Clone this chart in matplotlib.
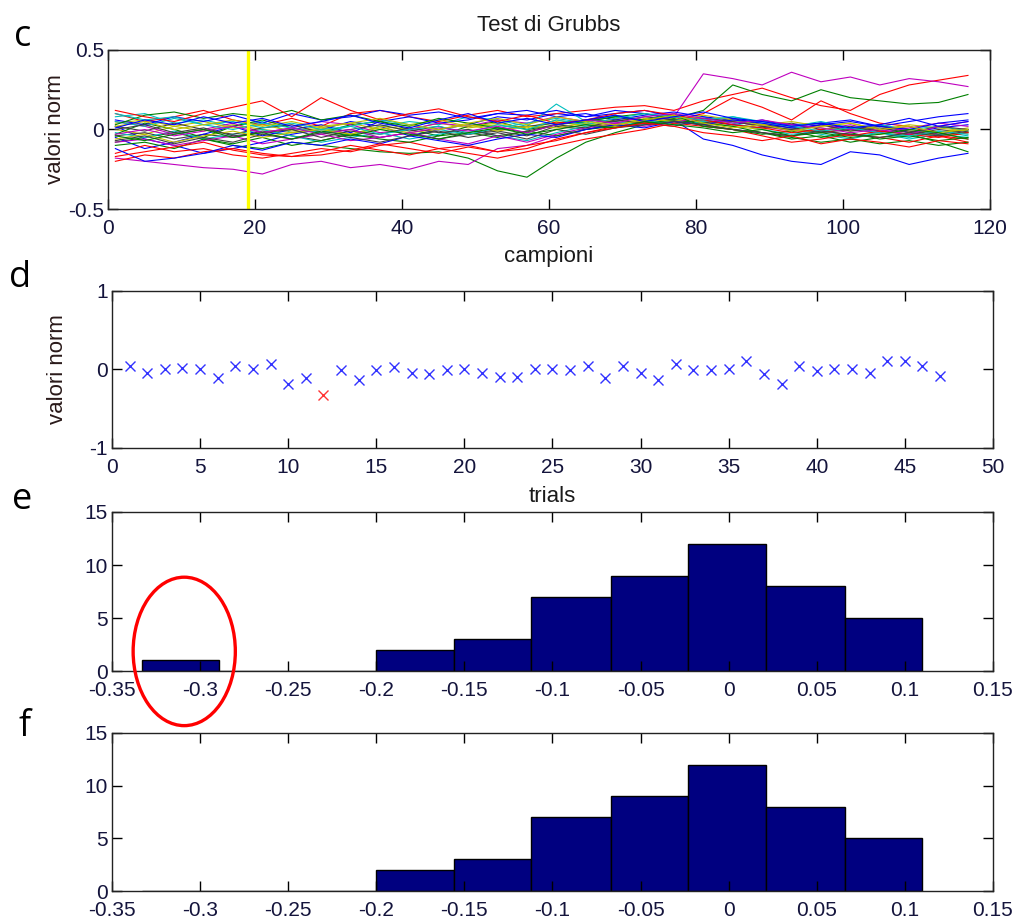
import numpy as np
import matplotlib

matplotlib.use("Agg")
import matplotlib.pyplot as plt
from matplotlib.patches import Ellipse

# ---- data -------------------------------------------------------------
# panel c: normalised samples per trial (hundredths), read every 4th sample
campioni = list(range(1, 118, 4))
trial_lines = [
    [2, -6, -10, -15, -12, -8, -3, 0, 5, 2, -4, 0, 3, 8, 6, 10, 8, 12, 10, 6, -6, -10, -16, -20, -22, -14, -16, -22, -18, -15],
    [-8, -5, -2, -6, -10, -12, -8, -10, -12, -14, -15, -14, -18, -26, -30, -18, -8, -2, 3, 5, 3, 0, -2, -6, -4, -8, -5, -3, -8, -14],
    [10, 5, 8, 12, 6, 3, 7, 2, 10, 12, 8, 5, 9, 12, 8, 10, 12, 14, 15, 12, 18, 22, 26, 20, 15, 12, 22, 28, 31, 34],
    [8, 10, 4, 6, 2, 5, -2, 0, -4, 2, 5, 3, 8, 6, 2, 16, 5, 8, 6, 10, 4, 6, 2, 0, -3, -6, -2, -5, -1, -4],
    [-18, -20, -22, -24, -25, -28, -22, -20, -24, -22, -25, -20, -22, -12, -10, -4, 0, 4, 5, 8, 2, 0, -2, -4, 0, 3, -1, 2, -3, 0],
    [0, -3, 2, -1, 3, 0, -2, 1, -3, 2, 0, 4, 1, 3, 0, 5, 2, 6, 4, 7, 3, 5, 2, 0, -2, 1, -3, -1, -4, -2],
    [-4, -2, -6, -3, -5, -1, -4, -7, -3, -5, -2, -6, -3, -1, -4, 2, 0, 3, 6, 4, 6, 3, 1, 4, 0, 2, -1, -3, 0, -2],
    [-5, -12, -8, -3, 2, -4, 0, 3, -2, 5, 8, 4, 6, 10, 9, 12, 8, 10, 12, 8, 5, 3, 6, 2, 4, 0, 3, -2, 1, 3],
    [-3, 4, 0, -5, 2, 6, 1, -2, 3, 5, 0, -4, 2, 5, 0, 3, 6, 8, 10, 7, 12, 28, 22, 18, 25, 20, 18, 16, 17, 22],
    [-15, -10, -14, -12, -16, -18, -15, -12, -14, -10, -8, -12, -10, -14, -12, -6, -2, 2, 4, 6, 10, 20, 14, 6, 18, 10, 4, 2, -4, -8],
    [-2, -5, -1, -6, -3, 0, -4, -8, -5, -2, -6, -3, 0, -4, -7, -2, 2, 5, 3, 6, 8, 4, 0, -3, -1, -4, -2, -6, -3, -5],
    [5, 2, -3, 0, 4, -2, 1, 5, 3, -2, 0, 4, 2, 6, 4, 8, 5, 9, 6, 8, 35, 32, 28, 36, 30, 33, 28, 32, 30, 27],
    [4, 6, 2, 5, 1, 3, -1, 2, 4, 0, 3, 6, 2, 4, 1, 6, 3, 7, 5, 8, 5, 2, 0, 3, 1, -1, 2, 0, -2, 1],
    [2, -1, 4, 0, -3, 1, 3, -2, 0, 3, -1, 2, -3, 0, 2, 4, 6, 5, 8, 6, 4, 7, 3, 1, -2, 0, 2, -1, -3, 0],
    [6, 3, 8, 5, 9, 4, 10, 6, 8, 12, 9, 11, 7, 10, 12, 8, 10, 6, 9, 11, 8, 6, 5, 3, 4, 6, 2, 5, 8, 10],
    [-10, -8, -12, -6, -9, -5, -10, -7, -3, -6, -8, -4, -2, -5, -1, -4, 0, 2, 4, 6, 4, 2, -2, -5, -8, -6, -9, -7, -10, -8],
    [-20, -16, -18, -14, -12, -15, -17, -14, -10, -13, -16, -12, -15, -18, -14, -10, -6, -3, 0, 4, 2, 0, -4, -8, -6, -3, -5, -8, -4, -6],
    [5, 2, 7, 3, 0, 4, 1, -2, 2, 6, 3, 0, -3, 1, 4, 7, 4, 9, 6, 3, 5, 8, 4, 2, 5, 1, 3, 0, 2, -1],
    [-8, -6, -10, -7, -4, -9, -6, -3, -7, -5, -2, -6, -9, -4, -8, -3, 1, 4, 2, 5, 7, 5, 2, -1, 3, 0, -2, 1, 4, 2],
    [-6, -3, -8, -4, -1, -5, -2, 0, -3, 1, -2, 0, 3, -1, 2, 1, 4, 2, 7, 5, 9, 6, 3, 5, 2, 4, 0, 3, 1, -1],
    [0, 3, -2, 1, -4, -2, 0, -5, -1, -3, 1, -2, 0, -4, -1, 3, 1, 6, 4, 2, 7, 5, 2, 0, 3, -1, 1, -2, 2, 0],
    [-12, -20, -18, -15, -10, -13, -8, -10, -6, -9, -4, -7, -10, -6, -3, -5, 0, 3, 1, 5, 3, 6, 4, 1, 3, 5, 2, 0, 4, 6],
    [3, 9, 11, 7, 10, 8, 12, 6, 9, 5, 2, 7, 4, 1, -2, 3, 5, 8, 6, 9, 2, 0, -3, -1, -5, -2, -6, -4, -7, -5],
    [12, 8, 5, 10, 14, 18, 8, 20, 12, 6, 10, 13, 8, 5, 9, 4, 6, 10, 12, 9, 6, 3, 1, -2, 0, -4, -1, -3, -5, -2],
    [10, 6, 8, 3, 5, 1, 4, 0, 2, -3, 0, 2, -2, 3, 0, 6, 3, 7, 10, 8, 6, 8, 5, 2, -1, 1, -2, -4, -1, -3],
    [-3, 0, -4, -1, 2, -2, 1, -3, 0, -5, -2, 1, -1, 2, -2, 3, 6, 4, 8, 10, 7, 4, 6, 3, 1, -2, 0, -3, 2, 5],
    [2, 5, 0, 3, 6, 2, 5, 1, 4, 7, 3, 0, 4, 7, 3, 8, 5, 3, 6, 9, 4, 1, 3, -1, 2, 4, 0, 2, -2, 0],
    [-7, -4, -9, -5, -8, -3, -6, -2, -5, -8, -4, -1, -5, -2, -6, 0, -3, 1, 3, 5, 3, 0, -2, -4, -1, -3, -5, -2, -4, -1],
    [1, 6, 3, 8, 4, 7, 2, 5, 9, 4, 1, 6, 10, 4, 7, 3, 6, 9, 5, 8, 11, 7, 5, 2, 4, 1, 3, 7, 2, 5],
    [-4, -7, -3, 0, -5, -2, -6, -1, -4, 0, -3, -6, -2, 1, -3, 0, 3, 1, 5, 3, 1, -2, 0, -4, -2, -5, -3, 0, -2, -6],
    [-17, -14, -11, -8, -13, -16, -17, -16, -13, -9, -12, -15, -11, -14, -10, -7, -2, 1, 4, 2, -2, -4, -7, -4, -9, -6, -8, -11, -7, -9],
]
soglia_campione = 19

# panel d: mean value per trial
trials = list(range(1, 48))
valori_trial = [0.05, -0.04, 0.0, 0.02, 0.0, -0.11, 0.04, 0.0, 0.07, -0.18,
                -0.11, -0.33, -0.01, -0.13, -0.01, 0.03, -0.04, -0.06, -0.01, 0.0,
                -0.04, -0.10, -0.10, 0.01, 0.0, -0.01, 0.05, -0.11, 0.05, -0.04,
                -0.13, 0.07, -0.01, -0.01, 0.0, 0.11, -0.06, -0.18, 0.05, -0.02,
                0.0, 0.0, -0.04, 0.11, 0.11, 0.04, -0.08]
outlier_trial = 12

# panels e, f: histogram of the trial values (10 bins), before/after removal
bin_edges = [-0.333, -0.289, -0.245, -0.200, -0.156, -0.112,
             -0.067, -0.023, 0.021, 0.066, 0.110]
counts_before = [1, 0, 0, 2, 3, 7, 9, 12, 8, 5]
counts_after = [0, 0, 0, 2, 3, 7, 9, 12, 8, 5]

# ---- style ------------------------------------------------------------
plt.rcParams["font.family"] = ["Liberation Sans", "DejaVu Sans"]
plt.rcParams["axes.unicode_minus"] = False
matlab_colors = ["#0000ff", "#008000", "#ff0000", "#00bfbf",
                 "#bf00bf", "#bfbf00", "#404040"]
tick_color = "#14143c"
text_color = "#1a1a1a"
navy = "#000080"
TICK_FS = 15
LABEL_FS = 16

fig = plt.figure(figsize=(10.2, 9.22), dpi=100)


def style_axes(ax):
    for s in ax.spines.values():
        s.set_linewidth(1.0)
        s.set_color("#222222")
    ax.tick_params(direction="in", length=7, width=1.0, top=True, right=True,
                   labelsize=TICK_FS, labelcolor=tick_color)
    ax.tick_params(axis="x", pad=7)
    ax.tick_params(axis="y", pad=3)


# c ---------------------------------------------------------------------
ax_c = fig.add_axes([0.1059, 0.7733, 0.8647, 0.1725])
for i, line in enumerate(trial_lines):
    ax_c.plot(campioni, np.array(line) / 100.0,
              color=matlab_colors[i % len(matlab_colors)], lw=0.8)
ax_c.axvline(soglia_campione, color="#ffff00", lw=2.4)
ax_c.set_xlim(0, 120)
ax_c.set_ylim(-0.5, 0.5)
ax_c.set_xticks(range(0, 121, 20))
ax_c.set_yticks([-0.5, 0, 0.5])
ax_c.set_yticklabels(["-0.5", "0", "0.5"])
style_axes(ax_c)
ax_c.set_title("Test di Grubbs", fontsize=LABEL_FS, color=text_color, pad=14)
ax_c.set_xlabel("campioni", fontsize=LABEL_FS, color=text_color, labelpad=6)
ax_c.set_ylabel("valori norm", fontsize=LABEL_FS, color="#2a1a1a", labelpad=1)

# d ---------------------------------------------------------------------
ax_d = fig.add_axes([0.1098, 0.5141, 0.8637, 0.1703])
vals = np.array(valori_trial)
tr = np.array(trials)
normal = tr != outlier_trial
ax_d.plot(tr[normal], vals[normal], "x", color="#3333ff", ms=6.5, mew=1.0)
ax_d.plot(tr[~normal], vals[~normal], "x", color="#ff3333", ms=6.5, mew=1.0)
ax_d.set_xlim(0, 50)
ax_d.set_ylim(-1, 1)
ax_d.set_xticks(range(0, 51, 5))
ax_d.set_yticks([-1, 0, 1])
style_axes(ax_d)
ax_d.set_xlabel("trials", fontsize=LABEL_FS, color=text_color, labelpad=7)
ax_d.set_ylabel("valori norm", fontsize=LABEL_FS, color="#2a1a1a", labelpad=15)

# e, f ------------------------------------------------------------------
hist_ticks = [-0.35, -0.3, -0.25, -0.2, -0.15, -0.1, -0.05, 0, 0.05, 0.1, 0.15]
hist_labels = ["-0.35", "-0.3", "-0.25", "-0.2", "-0.15", "-0.1",
               "-0.05", "0", "0.05", "0.1", "0.15"]
centres = (np.array(bin_edges[:-1]) + np.array(bin_edges[1:])) / 2

ax_e = fig.add_axes([0.1098, 0.2722, 0.8637, 0.1725])
ax_f = fig.add_axes([0.1098, 0.0336, 0.8637, 0.1714])
for ax, counts in ((ax_e, counts_before), (ax_f, counts_after)):
    ax.hist(centres, bins=bin_edges, weights=counts, color=navy,
            edgecolor="black", linewidth=1.0)
    ax.set_xlim(-0.35, 0.15)
    ax.set_ylim(0, 15)
    ax.set_xticks(hist_ticks)
    ax.set_xticklabels(hist_labels)
    ax.set_yticks([0, 5, 10, 15])
    style_axes(ax)

# red circle around the outlier bin
ax_e.add_patch(Ellipse((-0.309, 1.85), 0.058, 14.0, fill=False,
                       edgecolor="#ff0000", lw=2.4, clip_on=False, zorder=5))

# panel letters
for letter, (x, y) in zip("cdef", [(23, 37), (20, 278), (22, 500), (25, 727)]):
    fig.text(x / 1020, 1 - y / 922, letter, fontsize=26, ha="center",
             va="center", family=["Open Sans", "DejaVu Sans"], color="black")

fig.savefig("out.png", dpi=100)
